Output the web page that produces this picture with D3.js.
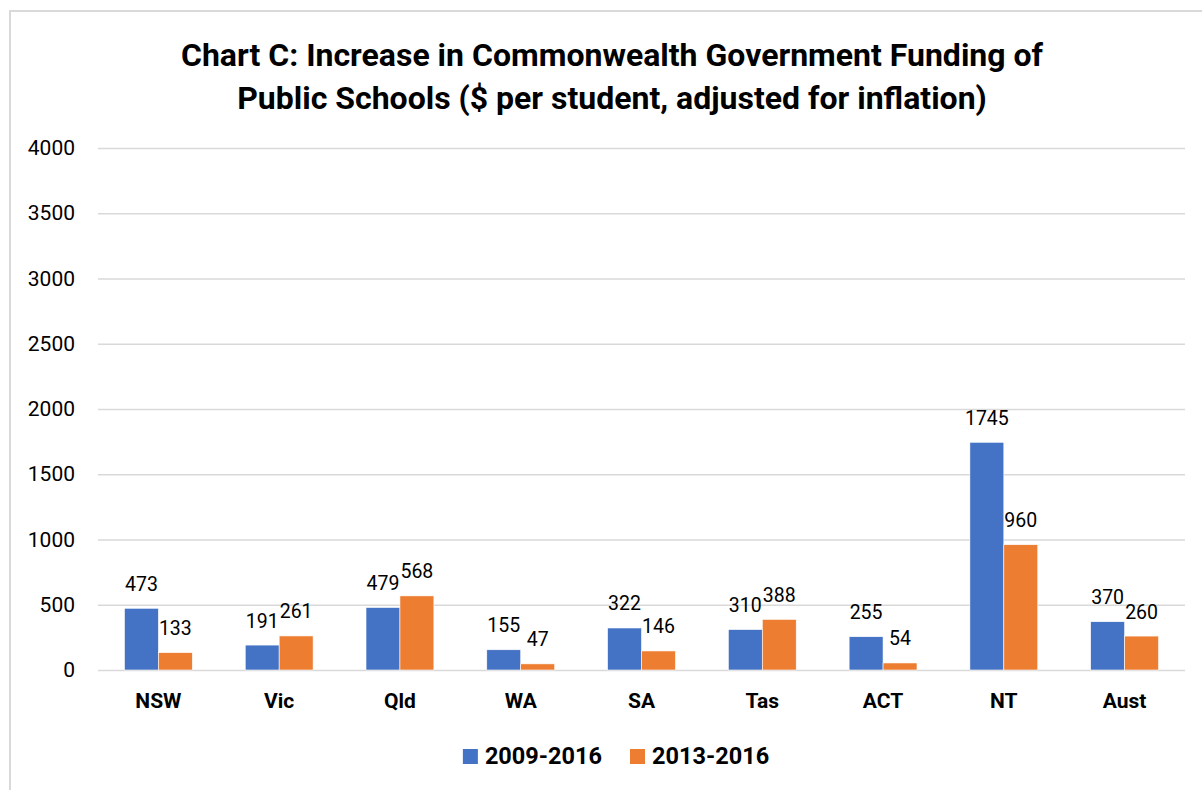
<!DOCTYPE html>
<html lang="en">
<head>
  <meta charset="utf-8">
  <title>Chart C: Commonwealth funding of public schools</title>
  <script src="https://d3js.org/d3.v7.min.js"></script>
  <style>
    body {
      margin: 0;
      background: #fff;
      font-family: Roboto, "Liberation Sans", sans-serif;
    }
    .grid line { stroke: #d9d9d9; stroke-width: 1.5px; }
    .grid .domain { display: none; }
  </style>
</head>
<body>
<script>
  // ------------------------------------------------
  // Data
  // ------------------------------------------------
  const categories = ["NSW", "Vic", "Qld", "WA", "SA", "Tas", "ACT", "NT", "Aust"];
  const seriesNames = ["2009-2016", "2013-2016"];
  const values2009 = [473, 191, 479, 155, 322, 310, 255, 1745, 370];
  const values2013 = [133, 261, 568, 47, 146, 388, 54, 960, 260];
  const yTicks = [0, 500, 1000, 1500, 2000, 2500, 3000, 3500, 4000];
  const titleLines = [
    "Chart C: Increase in Commonwealth Government Funding of",
    "Public Schools ($ per student, adjusted for inflation)"
  ];

  const colors = ["#4472c4", "#ed7d31"];
  const seriesValues = [values2009, values2013];

  // ------------------------------------------------
  // Layout
  // ------------------------------------------------
  const width = 1202;
  const height = 790;
  const plot = { left: 98, right: 1185, top: 148, bottom: 670 };

  const svg = d3.select("body")
    .append("svg")
    .attr("width", width)
    .attr("height", height);

  // chart frame
  svg.append("rect")
    .attr("x", 10)
    .attr("y", 11)
    .attr("width", width + 20)
    .attr("height", height + 20)
    .attr("fill", "#fff")
    .attr("stroke", "#d9d9d9")
    .attr("stroke-width", 2);

  // title
  svg.append("text")
    .attr("text-anchor", "middle")
    .attr("font-weight", "bold")
    .attr("font-size", "32px")
    .attr("fill", "#000")
    .selectAll("tspan")
    .data(titleLines)
    .join("tspan")
    .attr("x", 612)
    .attr("y", (d, i) => 66 + i * 43)
    .text(d => d);

  // scales
  const x = d3.scaleBand()
    .domain(categories)
    .range([plot.left, plot.right])
    .paddingInner(0.438)
    .paddingOuter(0.219);

  const xSub = d3.scaleBand()
    .domain(seriesNames)
    .range([0, x.bandwidth()]);

  const y = d3.scaleLinear()
    .domain([0, 4000])
    .range([plot.bottom, plot.top]);

  // gridlines + y labels
  const yAxis = svg.append("g")
    .attr("class", "grid")
    .attr("transform", `translate(${plot.left},0)`)
    .call(d3.axisLeft(y)
      .tickValues(yTicks)
      .tickSize(-(plot.right - plot.left))
      .tickPadding(23)
      .tickFormat(d3.format("d")));

  yAxis.selectAll("text")
    .attr("font-family", "Roboto, sans-serif")
    .attr("font-size", "21px")
    .attr("fill", "#000");

  // x axis labels
  const xAxis = svg.append("g")
    .attr("transform", `translate(0,${plot.bottom})`)
    .call(d3.axisBottom(x).tickSize(0).tickPadding(0));

  xAxis.select(".domain").remove();
  xAxis.selectAll("text")
    .attr("dy", null)
    .attr("y", 38)
    .attr("font-family", "Roboto, sans-serif")
    .attr("font-size", "21px")
    .attr("font-weight", "bold")
    .attr("fill", "#000");

  // bars
  const rows = categories.flatMap((c, i) =>
    seriesNames.map((s, k) => ({ cat: c, series: s, k, value: seriesValues[k][i] })));

  svg.append("g")
    .selectAll("rect")
    .data(rows)
    .join("rect")
    .attr("x", d => x(d.cat) + xSub(d.series))
    .attr("y", d => y(d.value))
    .attr("width", xSub.bandwidth())
    .attr("height", d => y(0) - y(d.value))
    .attr("fill", d => colors[d.k])
    .attr("stroke", "#fff")
    .attr("stroke-width", 0.6);

  // data labels
  svg.append("g")
    .selectAll("text")
    .data(rows)
    .join("text")
    .attr("x", d => x(d.cat) + xSub(d.series) + xSub.bandwidth() / 2)
    .attr("y", d => y(d.value) - 17.5)
    .attr("text-anchor", "middle")
    .attr("font-size", "19.5px")
    .attr("fill", "#000")
    .text(d => d.value);

  // legend
  const legend = svg.append("g");
  const items = legend.selectAll("g")
    .data(seriesNames)
    .join("g");

  items.append("rect")
    .attr("width", 15)
    .attr("height", 15)
    .attr("y", 749)
    .attr("fill", (d, i) => colors[i]);

  items.append("text")
    .attr("x", 22)
    .attr("y", 764)
    .attr("font-size", "23.5px")
    .attr("font-weight", "bold")
    .attr("fill", "#000")
    .text(d => d);

  // place legend items side by side, centred
  let offset = 0;
  const gap = 28;
  const widths = [];
  items.each(function() {
    widths.push(this.getBBox().width);
  });
  const total = d3.sum(widths) + gap * (widths.length - 1);
  const start = 616 - total / 2;
  items.attr("transform", (d, i) => {
    const t = `translate(${start + offset},0)`;
    offset += widths[i] + gap;
    return t;
  });
</script>
</body>
</html>
